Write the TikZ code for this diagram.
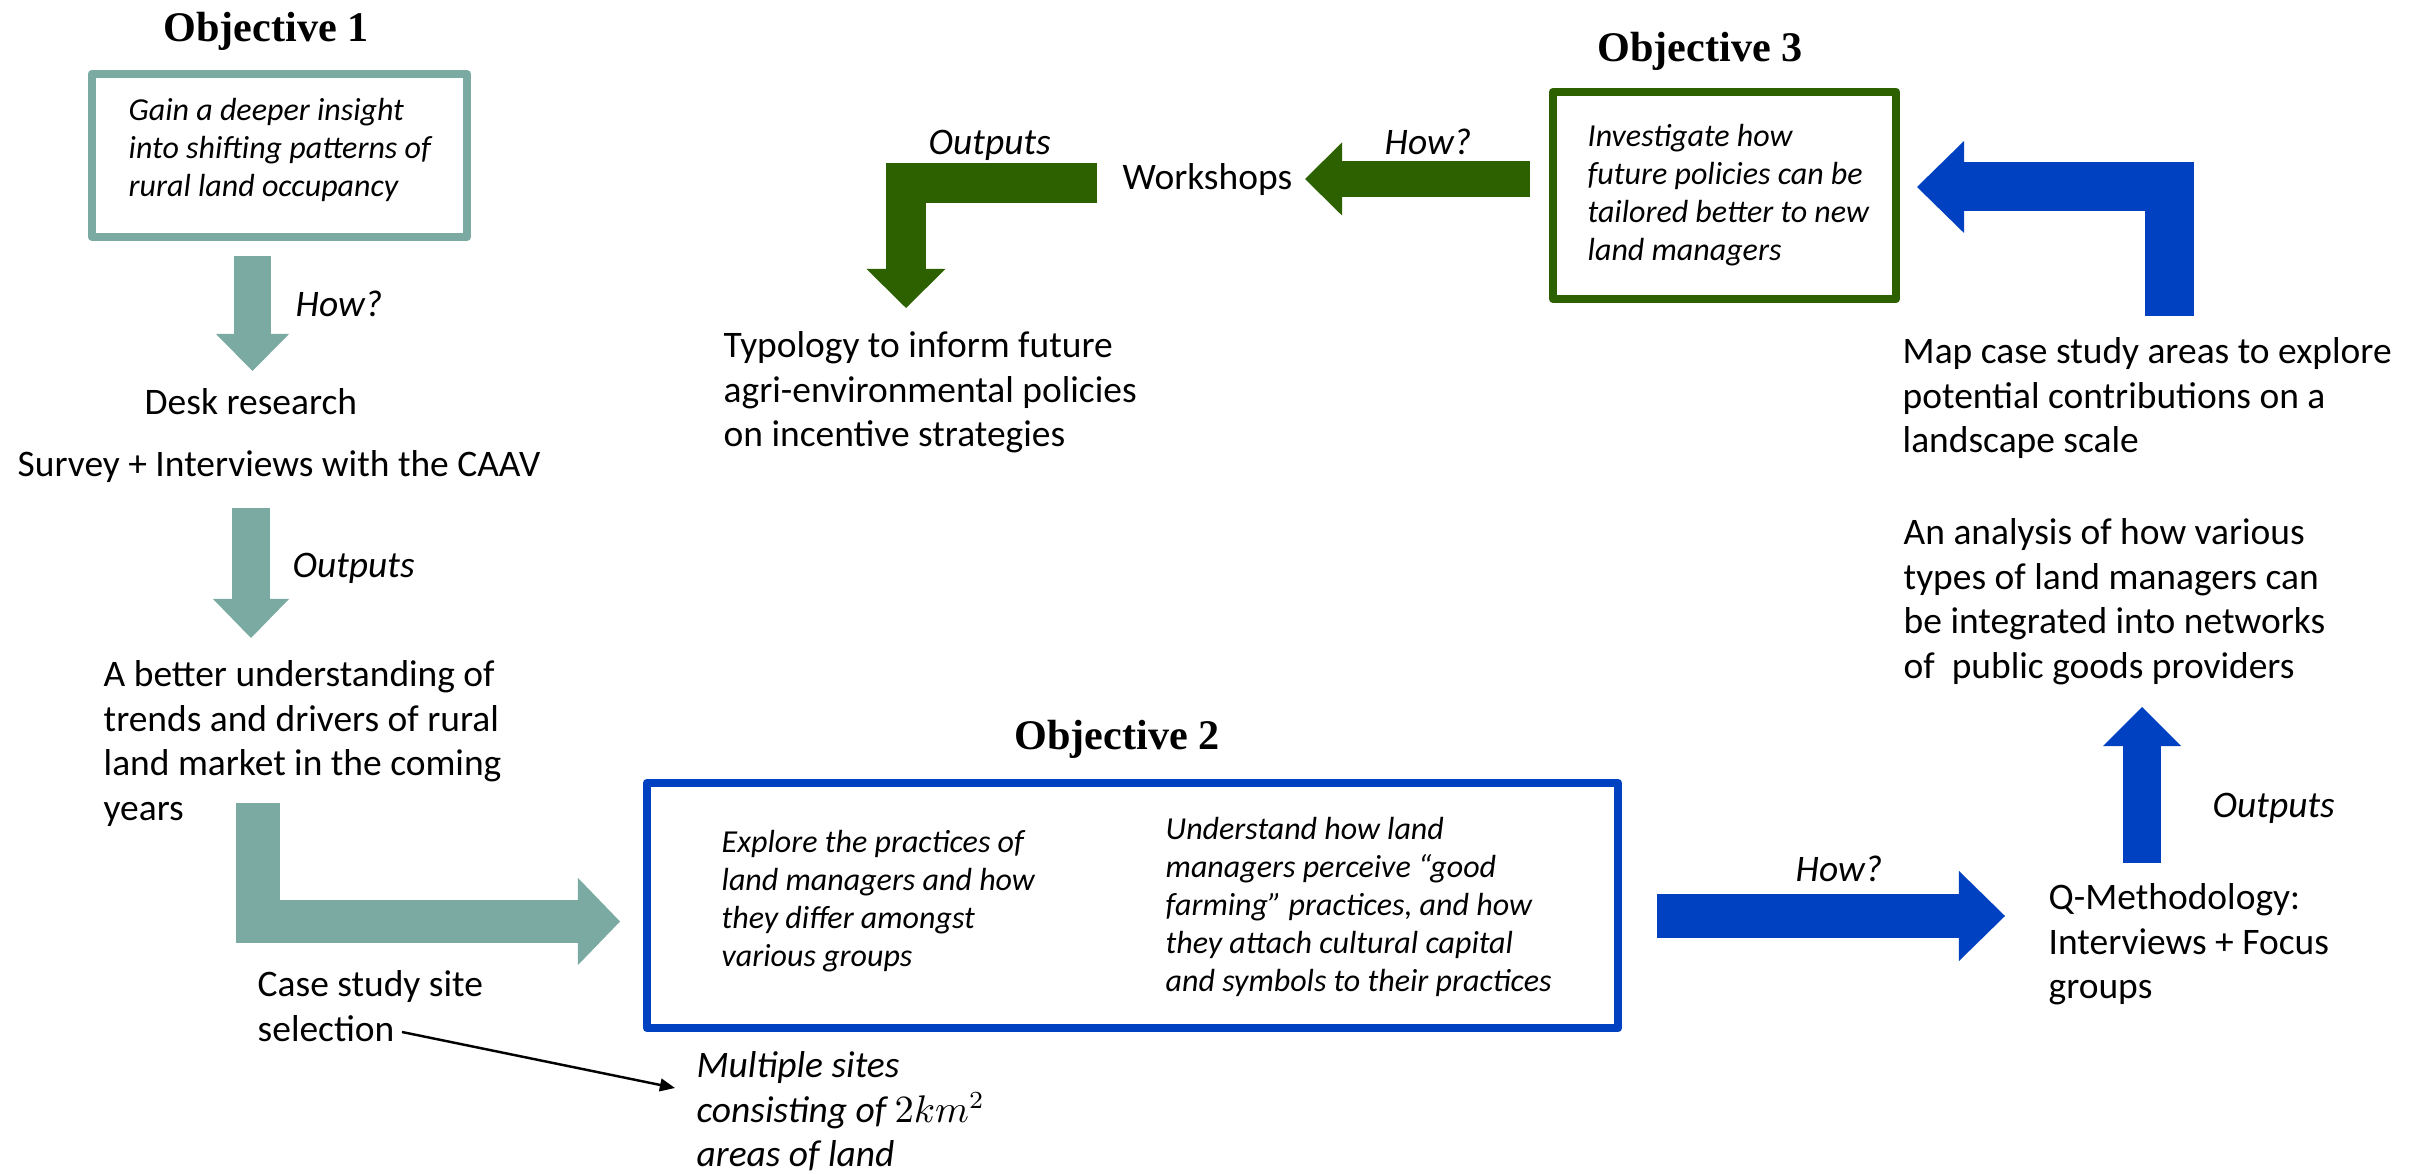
\documentclass[tikz,border=0pt]{standalone}
\usepackage{fontspec}
\setmainfont{Carlito}
\newfontfamily\titlefont{Liberation Serif}
\usepackage{tikz}
\usetikzlibrary{arrows.meta}
\definecolor{objteal}{RGB}{122,170,161}
\definecolor{objgreen}{RGB}{45,97,0}
\definecolor{objblue}{RGB}{0,65,194}
\tikzset{
	objtitle/.style={anchor=base, inner sep=0pt, font=\titlefont\bfseries\fontsize{12pt}{14pt}\selectfont},
	objbox/.style={draw=#1, line width=0.08cm, line join=round, inner sep=0pt},
	boxtext/.style={anchor=base west, inner sep=0pt, align=left, font=\itshape\fontsize{9.1pt}{10.81pt}\selectfont},
	plaintext/.style={anchor=base west, inner sep=0pt, align=left, font=\fontsize{10.65pt}{12.66pt}\selectfont},
	steplabel/.style={plaintext, font=\itshape\fontsize{10.65pt}{12.66pt}\selectfont},
	fatarrow/.style n args={4}{draw=#1, line width=#2, -{Triangle[width=#3, length=#4, line width=0pt]}}
}
\begin{document}
\begin{tikzpicture}[x=0.01cm, y=-0.01cm]
	\useasboundingbox (0,0) rectangle (2412,1174);
	\node[objtitle] (title1) at (266,42) {Objective 1};
	\node[objtitle] (title2) at (1117,750) {Objective 2};
	\node[objtitle] (title3) at (1700,62) {Objective 3};
	\node[objbox=objteal, minimum width=3.75cm, minimum height=1.63cm] (obj1) at (279.5,155.5) {};
	\node[objbox=objblue, minimum width=9.71cm, minimum height=2.45cm] (obj2) at (1132.5,905.5) {};
	\node[objbox=objgreen, minimum width=3.43cm, minimum height=2.07cm] (obj3) at (1724.5,195.5) {};
	\node[boxtext] (gain) at (128,197) {Gain a deeper insight\\into shifting patterns of\\rural land occupancy};
	\node[boxtext] (explore) at (721,967) {Explore the practices of\\land managers and how\\they differ amongst\\various groups};
	\node[boxtext] (understand) at (1165,992) {Understand how land\\managers perceive “good\\farming” practices, and how\\they attach cultural capital\\and symbols to their practices};
	\node[boxtext] (investigate) at (1587,261) {Investigate how\\future policies can be\\tailored better to new\\land managers};
	\node[plaintext] (desk) at (144,415) {Desk research};
	\node[plaintext] (survey) at (17,477) {Survey + Interviews with the CAAV};
	\node[plaintext] (better) at (103,820.5) {A better understanding of\\trends and drivers of rural\\land market in the coming\\years};
	\node[plaintext] (casestudy) at (257,1041.5) {Case study site\\selection};
	\node[steplabel] (multiple) at (696,1167) {Multiple sites\\consisting of $2km^2$\\areas of land};
	\node[plaintext] (qmeth) at (2048,999) {Q-Methodology:\\Interviews + Focus\\groups};
	\node[plaintext] (analysis) at (1903,678.5) {An analysis of how various\\types of land managers can\\be integrated into networks\\of~ public goods providers};
	\node[plaintext] (mapping) at (1902,453) {Map case study areas to explore\\potential contributions on a\\landscape scale};
	\node[plaintext] (workshops) at (1122,190) {Workshops};
	\node[plaintext] (typology) at (723,447) {Typology to inform future\\agri-environmental policies\\on incentive strategies};
	\node[steplabel] (how1) at (295,317) {How?};
	\node[steplabel] (out1) at (292,578) {Outputs};
	\node[steplabel] (how2) at (1795,882) {How?};
	\node[steplabel] (out2) at (2212,818) {Outputs};
	\node[steplabel] (how3) at (1384,155) {How?};
	\node[steplabel] (out3) at (928,155) {Outputs};
	\foreach \n/\x/\y in {a1s/252.5/256, a1e/252.5/371, a2s/251/508, a2e/251/638, a3s/258/803, a3e/620/921.5, g1s/1530/179, g1e/1305/179, g2s/1097/183, g2e/906/308, b1s/1657/916, b1e/2005/916, b2s/2142/863, b2e/2142/707, b3s/2169.5/316, b3e/1917/187, selend/402/1032, multtip/675/1088}
		\coordinate (\n) at (\x,\y);
	\draw[fatarrow={objteal}{0.37cm}{0.73cm}{0.37cm}] (a1s) -- (a1e);
	\draw[fatarrow={objteal}{0.38cm}{0.76cm}{0.39cm}] (a2s) -- (a2e);
	\draw[fatarrow={objteal}{0.43cm}{0.87cm}{0.42cm}] (a3s) |- (a3e);
	\draw[fatarrow={objgreen}{0.36cm}{0.73cm}{0.37cm}] (g1s) -- (g1e);
	\draw[fatarrow={objgreen}{0.40cm}{0.79cm}{0.39cm}] (g2s) -| (g2e);
	\draw[fatarrow={objblue}{0.44cm}{0.90cm}{0.46cm}] (b1s) -- (b1e);
	\draw[fatarrow={objblue}{0.38cm}{0.78cm}{0.39cm}] (b2s) -- (b2e);
	\draw[fatarrow={objblue}{0.49cm}{0.92cm}{0.47cm}] (b3s) |- (b3e);
	\draw[line width=0.7pt, -{Triangle[length=4.3pt, width=3.6pt]}] (selend) -- (multtip);
\end{tikzpicture}
\end{document}
